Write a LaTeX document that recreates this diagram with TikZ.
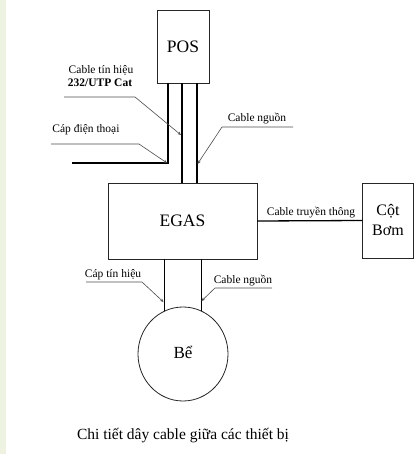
\documentclass[tikz,border=0pt]{standalone}
\usepackage{fontspec}
\setmainfont{Liberation Serif}
\usetikzlibrary{arrows.meta,shapes.geometric}
\definecolor{strip}{HTML}{EEF2E0}
\begin{document}
\begin{tikzpicture}[x=1pt,y=-1pt,
  box/.style={draw=black!85,line width=0.8pt,inner sep=0pt,outer sep=0pt},
  cable/.style={draw=black,line width=1.3pt},
  lead/.style={draw=black!70,line width=0.6pt,-{Stealth[length=3.5pt,width=3pt]}},
  lbl/.style={font=\fontsize{11.5}{13}\selectfont,anchor=base,inner sep=0pt},
  big/.style={font=\fontsize{17.5}{20}\selectfont}]
\useasboundingbox (0,0) rectangle (417,454);
\fill[strip] (0,0) rectangle (6,454);
% boxes
\node[box,big,minimum width=52pt,minimum height=73pt] (pos) at (183,46.5) {POS};
\node[box,big,minimum width=149pt,minimum height=76pt] (egas) at (182.5,221) {EGAS};
\node[box,font=\fontsize{16}{20}\selectfont,align=center,minimum width=51pt,minimum height=75pt] (cot) at (388,220.5) {Cột\\Bơm};
\node[draw=black!85,line width=0.8pt,ellipse,inner sep=0pt,minimum width=90pt,minimum height=94pt,
      font=\fontsize{17}{20}\selectfont,text height=8pt,text depth=0pt] (be) at (183,354) {Bể};
% cable positions
\coordinate (xa) at (168,0);
\coordinate (xb) at (182,0);
\coordinate (xc) at (197,0);
\coordinate (phone) at (72,163);
% cables
\draw[cable] (pos.south -| xa) |- (phone);
\draw[cable] (pos.south -| xb) -- (egas.north -| xb);
\draw[cable] (pos.south -| xc) -- (egas.north -| xc);
\draw[cable] (egas.east) -- (cot.west);
\draw[cable] (egas.south -| be.113) -- (be.113);
\draw[cable] (egas.south -| be.67) -- (be.67);
% labels
\node[lbl] (l1a) at (101,74) {Cable tín hiệu};
\node[lbl,font=\fontsize{11.5}{13}\selectfont\bfseries] (l1b) at (100,87) {232/UTP Cat};
\node[lbl] (l2) at (86,133) {Cáp điện thoại};
\node[lbl] (l3) at (257,122) {Cable nguồn};
\node[lbl] (l4) at (113,277) {Cáp tín hiệu};
\node[lbl] (l5) at (243,283) {Cable nguồn};
\node[lbl] (l6) at (311,215) {Cable truyền thông};
\node[font=\fontsize{15.5}{18}\selectfont,anchor=base,inner sep=0pt] (cap) at (183,439) {Chi tiết dây cable giữa các thiết bị};
% leader tips
\coordinate (t1) at (181,135);
\coordinate (t2) at (167,163);
\coordinate (t3) at (197.5,164);
\coordinate (t4) at (163.5,302);
\coordinate (t5) at (201.5,301);
% leaders
\draw[lead] (64,97) -- (135,97) -- (t1);
\draw[lead] (51,144) -- (139,144) -- (t2);
\draw[lead] (293,127) -- (222,127) -- (t3);
\draw[lead] (86,282) -- (142,282) -- (t4);
\draw[lead] (272,288) -- (215,288) -- (t5);
\end{tikzpicture}
\end{document}
